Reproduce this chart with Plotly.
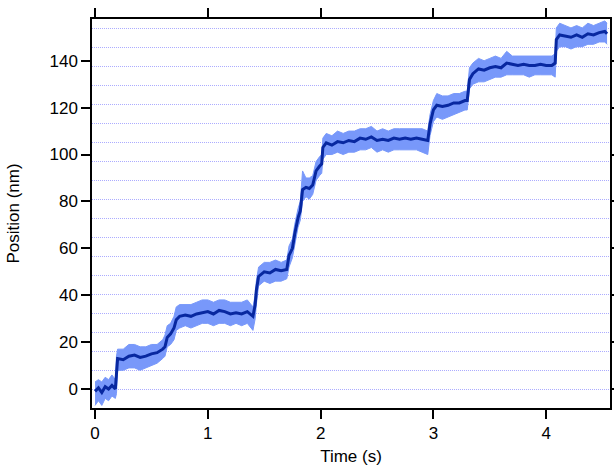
import plotly.graph_objects as go

# Time (s)
time_s = [0.00, 0.03, 0.06, 0.09, 0.12, 0.15, 0.18, 0.19, 0.20, 0.25, 0.30, 0.35, 0.40, 0.45,
          0.50, 0.55, 0.60, 0.62, 0.64, 0.67, 0.70, 0.72, 0.75, 0.80, 0.85, 0.90, 0.95, 1.00,
          1.05, 1.10, 1.15, 1.20, 1.25, 1.30, 1.35, 1.40, 1.42, 1.43, 1.45, 1.50, 1.55, 1.60,
          1.65, 1.70, 1.72, 1.75, 1.77, 1.80, 1.82, 1.84, 1.87, 1.90, 1.93, 1.96, 1.99, 2.01,
          2.02, 2.05, 2.10, 2.15, 2.20, 2.25, 2.30, 2.35, 2.40, 2.45, 2.50, 2.55, 2.60, 2.65,
          2.70, 2.75, 2.80, 2.85, 2.90, 2.95, 2.97, 3.00, 3.03, 3.08, 3.13, 3.18, 3.23, 3.28,
          3.30, 3.32, 3.35, 3.40, 3.45, 3.50, 3.55, 3.60, 3.65, 3.70, 3.75, 3.80, 3.85, 3.90,
          3.95, 4.00, 4.05, 4.08, 4.09, 4.12, 4.17, 4.22, 4.27, 4.32, 4.37, 4.42, 4.47, 4.52,
          4.54]

# Filtered position (nm)
position_filtered = [-1, 0.5, -1.5, 1, 0, 1.5, 0, 8, 13, 12.5, 14, 14.5, 13.5, 14,
                     15, 15.5, 17, 18, 22, 23.5, 26, 29.5, 31, 31.5, 31, 32, 32.5, 33,
                     32, 33.5, 33, 32, 32.5, 32, 33, 31, 36, 42, 48, 50, 49.5, 51,
                     50.5, 51, 57, 60, 66, 73, 76, 85, 86, 85.5, 87, 93, 95, 96,
                     103, 105, 104, 105.5, 105, 106, 105.5, 107, 106.5, 107.5, 106, 106.5, 106, 107,
                     106.5, 107, 106.5, 107, 106.5, 106, 113, 119, 121, 120.5, 121, 122, 122, 123,
                     123, 132, 134.5, 136.5, 136, 137, 137.5, 137, 139, 138.5, 138, 138.5, 138, 138,
                     138.5, 138, 138, 139, 149, 151, 150.5, 150, 151, 150, 151.5, 151, 152, 152.5,
                     151.5]

# Raw trace envelope (nm)
raw_upper = [3, 4, 3, 5, 4, 6, 4, 14, 17, 17, 19, 19, 18, 18,
             19, 19, 21, 23, 27, 28, 31, 35, 36, 36, 36, 37, 38, 38,
             37, 38, 38, 37, 37, 37, 38, 35, 40, 46, 52, 54, 54, 55,
             54, 55, 61, 64, 70, 77, 80, 93, 90, 90, 91, 97, 99, 100,
             107, 109, 108, 110, 109, 110, 110, 111, 111, 112, 110, 111, 110, 111,
             111, 111, 111, 111, 111, 110, 117, 123, 126, 125, 125, 126, 126, 127,
             127, 137, 139, 141, 140, 141, 142, 141, 144, 142, 142, 142, 142, 142,
             142, 142, 142, 143, 154, 156, 155, 154, 155, 154, 156, 155, 156, 157,
             156]
raw_lower = [-7, -5, -7, -4, -5, -3, -4, -2, 8, 8, 9, 9, 8, 9,
             10, 11, 13, 14, 18, 19, 21, 25, 26, 27, 26, 27, 28, 28,
             27, 28, 28, 27, 28, 27, 28, 25, 30, 36, 44, 46, 45, 46,
             46, 47, 52, 56, 62, 69, 72, 80, 82, 81, 83, 89, 91, 92,
             98, 100, 100, 101, 100, 101, 101, 102, 102, 103, 101, 102, 101, 102,
             102, 102, 102, 102, 101, 100, 108, 114, 116, 115, 116, 117, 118, 119,
             119, 128, 130, 131, 131, 132, 133, 133, 134, 134, 134, 134, 133, 134,
             134, 134, 134, 133, 144, 146, 146, 145, 146, 146, 147, 147, 148, 148,
             147]

y_ticks = [0, 20, 40, 60, 80, 100, 120, 140]
x_ticks = [0, 1, 2, 3, 4]
grid_step_nm = 8.1
x_range = [-0.027, 4.566]
y_range = [-8.1, 157.8]

LIGHT = "rgb(120,152,250)"
DARK = "rgb(8,40,160)"
FONT = "Liberation Sans, Arial, sans-serif"

fig = go.Figure()
# empty trace so the grid-only overlay axis is drawn
fig.add_trace(go.Scatter(x=[], y=[], yaxis="y2", showlegend=False, hoverinfo="skip"))
fig.add_trace(go.Scatter(x=time_s, y=raw_lower, mode="lines",
                         line=dict(color=LIGHT, width=1), showlegend=False,
                         hoverinfo="skip"))
fig.add_trace(go.Scatter(x=time_s, y=raw_upper, mode="lines", fill="tonexty",
                         fillcolor=LIGHT, line=dict(color=LIGHT, width=1),
                         showlegend=False, hoverinfo="skip"))
fig.add_trace(go.Scatter(x=time_s, y=position_filtered, mode="lines",
                         line=dict(color=DARK, width=3), showlegend=False))

axis_common = dict(showline=True, linecolor="black", linewidth=1.5, mirror="ticks",
                   ticks="outside", ticklen=9, tickwidth=1.5, tickcolor="black",
                   showgrid=False, zeroline=False, automargin=False,
                   tickfont=dict(family=FONT, size=17, color="black"))

fig.update_layout(
    template="none",
    width=614, height=469,
    margin=dict(l=92, r=4, t=19, b=61, autoexpand=False),
    plot_bgcolor="white", paper_bgcolor="white",
    font=dict(family=FONT, size=17, color="black"),
    xaxis=dict(range=x_range, tickvals=x_ticks,
               title=dict(text="Time (s)", font=dict(family=FONT, size=17), standoff=8),
               **axis_common),
    yaxis=dict(range=y_range, tickvals=y_ticks,
               title=dict(text="Position (nm)", font=dict(family=FONT, size=17), standoff=26),
               **axis_common),
    yaxis2=dict(overlaying="y", range=y_range, tick0=0, dtick=grid_step_nm,
                showgrid=True, gridcolor="rgb(172,172,255)", griddash="1px,1px", gridwidth=1,
                showticklabels=False, ticks="", showline=False, zeroline=False,
                automargin=False),
)

fig.write_html("out.html", config={"displayModeBar": False},
               post_script="document.body.style.margin='0';document.body.style.overflow='hidden';")
